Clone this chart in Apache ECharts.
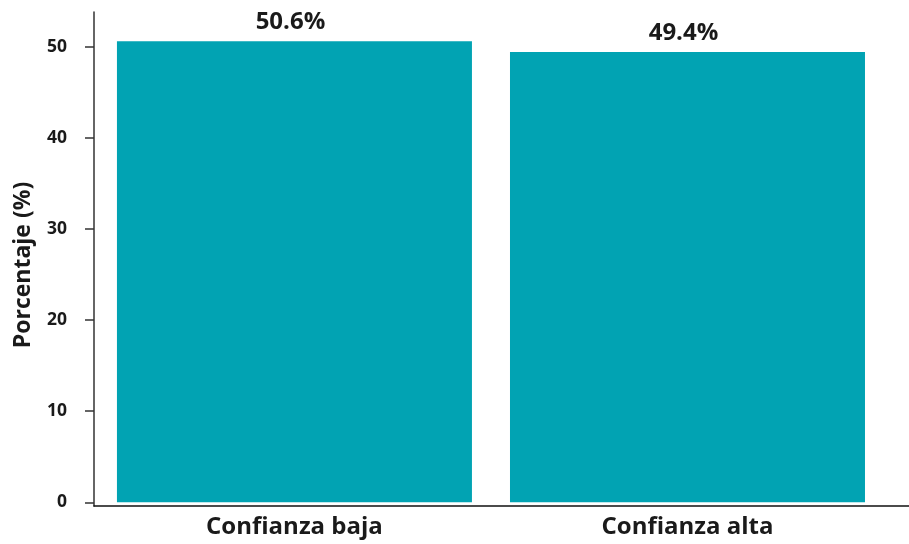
<!DOCTYPE html>
<html>
<head>
<meta charset="utf-8">
<script src="https://cdn.jsdelivr.net/npm/echarts@6/dist/echarts.min.js"></script>
<style>html,body{margin:0;padding:0;background:#fff}#c{width:909px;height:544px}</style>
</head>
<body>
<div id="c"></div>
<script>
var categories = ["Confianza baja", "Confianza alta"];
var values = [50.6, 49.4];
var yTicks = [0, 10, 20, 30, 40, 50];
var yTitle = "Porcentaje (%)";

var chart = echarts.init(document.getElementById('c'), null, {renderer: 'canvas'});
var font = "'Open Sans', 'Noto Sans', sans-serif";
var xPositions = categories.map(function (c, i) { return i + 1; });
chart.setOption({
  animation: false,
  grid: {left: 94, right: 0, top: 12, bottom: 38, containLabel: false},
  xAxis: {
    type: 'value', min: 0.49, max: 2.5636,
    axisLine: {show: true, onZero: false, lineStyle: {color: '#111', width: 1.5}},
    axisTick: {show: false},
    splitLine: {show: false},
    axisLabel: {
      customValues: xPositions,
      formatter: function (v) { return categories[Math.round(v) - 1] || ''; },
      color: '#1a1a1a', fontFamily: font, fontWeight: 'bold', fontSize: 24, margin: 9
    }
  },
  yAxis: {
    type: 'value', min: -0.406, max: 53.8,
    name: yTitle, nameLocation: 'middle', nameGap: 59, nameRotate: 90,
    nameTextStyle: {color: '#1a1a1a', fontFamily: font, fontWeight: 'bold', fontSize: 23, padding: [0, 12, 0, 0]},
    axisLine: {show: true, onZero: false, lineStyle: {color: '#333', width: 1.5}},
    axisTick: {show: true, customValues: yTicks, length: 9, lineStyle: {color: '#333', width: 1.5}},
    splitLine: {show: false},
    axisLabel: {
      customValues: yTicks,
      color: '#1a1a1a', fontFamily: font, fontWeight: 'bold', fontSize: 17.5, margin: 27
    }
  },
  series: [{
    type: 'bar',
    barWidth: 355,
    itemStyle: {color: '#01A3B3'},
    data: values.map(function (v, i) { return [xPositions[i], v]; }),
    label: {
      show: true, position: 'top', distance: 7, offset: [-4, 0],
      formatter: function (p) { return p.value[1].toFixed(1) + '%'; },
      color: '#1a1a1a', fontFamily: font, fontWeight: 'bold', fontSize: 24
    }
  }]
});
</script>
</body>
</html>
